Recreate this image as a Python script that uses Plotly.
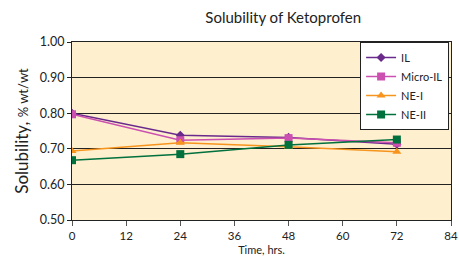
import plotly.graph_objects as go

hours = [0, 24, 48, 72]
il = [0.800, 0.738, 0.732, 0.713]
micro_il = [0.797, 0.724, 0.730, 0.717]
ne_i = [0.694, 0.717, 0.706, 0.692]
ne_ii = [0.668, 0.685, 0.711, 0.726]

x_ticks = [0, 12, 24, 36, 48, 60, 72, 84]
y_ticks = [0.5, 0.6, 0.7, 0.8, 0.9, 1.0]

series = [
    ("IL", il, "#6A2A8C", "diamond", 7),
    ("Micro-IL", micro_il, "#CC50B0", "square", 8),
    ("NE-I", ne_i, "#F7941D", "triangle-up", 8),
    ("NE-II", ne_ii, "#00703C", "square", 8),
]

fig = go.Figure()
for name, vals, color, sym, size in series:
    fig.add_trace(go.Scatter(
        x=hours, y=vals, name=name, mode="lines+markers",
        line=dict(color=color, width=1.5),
        marker=dict(color=color, symbol=sym, size=size),
    ))

font = "Lato, Liberation Sans, sans-serif"
fig.update_layout(
    width=459, height=265,
    margin=dict(l=72, r=8, t=42, b=45, autoexpand=False),
    paper_bgcolor="white",
    plot_bgcolor="#FEEFCF",
    font=dict(family=font, color="#222", size=12),
    title=dict(text="Solubility of Ketoprofen", x=0.617, xanchor="center",
               y=0.932, yanchor="middle", font=dict(size=15, color="#222")),
    showlegend=True,
    legend=dict(x=0.995, xanchor="right", y=1.0, yanchor="top",
                bgcolor="white", bordercolor="#222", borderwidth=1,
                font=dict(size=11), tracegroupgap=0, itemwidth=30,
                itemsizing="trace"),
    xaxis=dict(range=[0, 84], tickvals=x_ticks, ticktext=[str(v) for v in x_ticks],
               showgrid=False, zeroline=False, showline=True, linecolor="#222",
               linewidth=1, mirror=True, ticks="outside", ticklen=5,
               tickcolor="#555", tickfont=dict(size=11.5), automargin=False,
               title=dict(text="Time, hrs.", font=dict(size=11), standoff=5)),
    yaxis=dict(range=[0.5, 1.0], tickvals=y_ticks,
               ticktext=[f"{v:.2f}" for v in y_ticks],
               showgrid=True, gridcolor="#222", gridwidth=1, zeroline=False,
               showline=True, linecolor="#222", linewidth=1, mirror=True,
               ticks="outside", ticklen=4, tickcolor="#222",
               tickfont=dict(size=12.5), automargin=False,
               title=dict(text="Solubility, <span style='font-size:13px'>% wt/wt</span>",
                          font=dict(size=17), standoff=6)),
)

fig.write_html(
    "out.html",
    config={"displayModeBar": False},
    post_script="document.body.style.margin='0';document.body.style.overflow='hidden';",
)
